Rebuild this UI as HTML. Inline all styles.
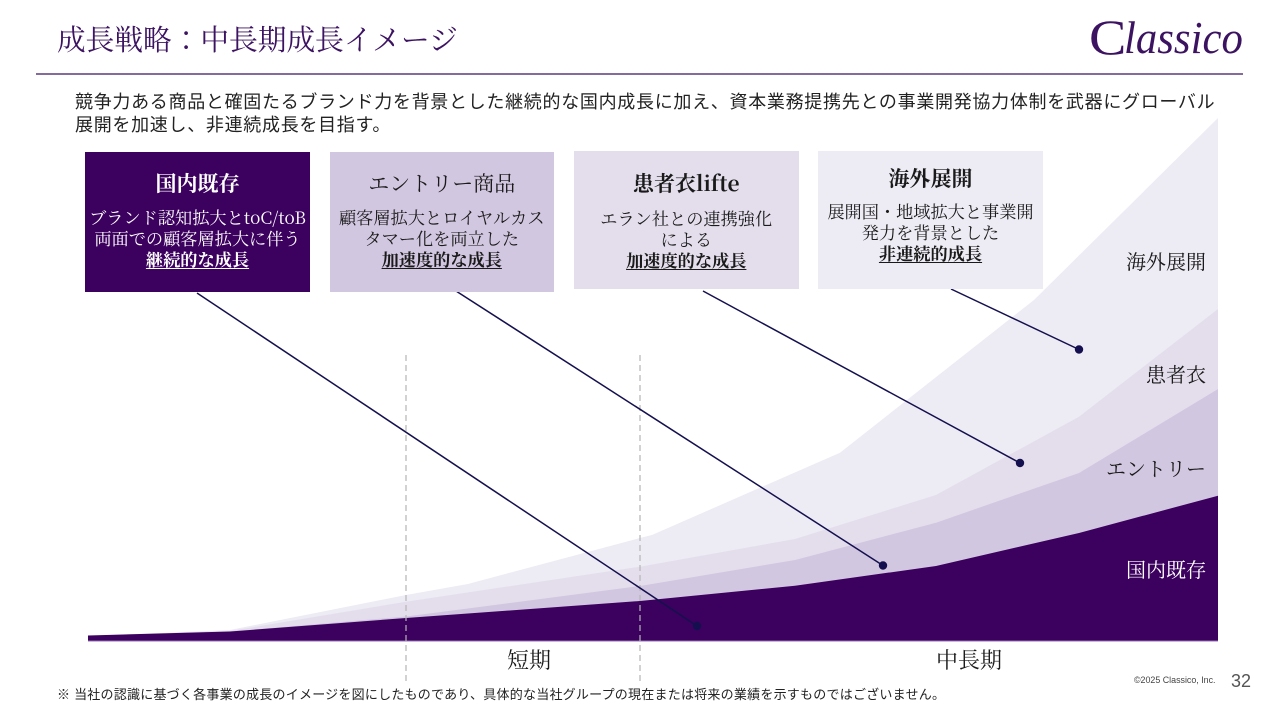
<!DOCTYPE html>
<html lang="ja"><head><meta charset="utf-8"><title>成長戦略</title>
<style>
html,body{margin:0;padding:0;background:#fff}
#p{position:relative;width:1280px;height:720px;overflow:hidden;background:#fff;font-family:"Liberation Serif","Noto Serif CJK JP",serif;color:#1a1a1a}
.a{position:absolute;white-space:nowrap}
.box{position:absolute;text-align:center;box-sizing:border-box;font-family:"Noto Serif CJK JP","Liberation Serif",serif}
.l{position:absolute;left:0;right:0;text-align:center;white-space:nowrap;font-size:17.2px;line-height:21px}
.h{position:absolute;left:0;right:0;text-align:center;white-space:nowrap;font-size:21px;line-height:30px}
b{font-weight:700}
u{font-weight:700;text-underline-offset:2px}
.s{font-family:"Liberation Sans","Noto Sans CJK JP",sans-serif}
svg{position:absolute;left:0;top:0}
</style></head><body><div id="p">
<svg width="1280" height="720" viewBox="0 0 1280 720">
<polygon fill="#edebf3" points="88,636 230,630 406,595 468,584 640,538 652,535 840,452.7 1034,300 1218,118 1218,641 88,641"/>
<polygon fill="#e4deec" points="88,636 230,631 406,601.7 640,566.7 795,539 936,495 1079,416.7 1218,309 1218,641 88,641"/>
<polygon fill="#d2c7e0" points="88,636 230,631.5 406,616.5 640,586 795,560 936,522.7 1079,473 1218,389 1218,641 88,641"/>
<polygon fill="#3c005f" points="88,635.5 230,631.5 406,618 640,601 795,585.7 936,566 1079,533 1218,495.7 1218,641 88,641"/>
<line x1="88" y1="641" x2="1218" y2="641" stroke="#9470b0" stroke-width="1"/>
<line x1="406" y1="355" x2="406" y2="682" stroke="#b5b5b5" stroke-width="1.2" stroke-dasharray="6 4"/>
<line x1="640" y1="355" x2="640" y2="682" stroke="#b5b5b5" stroke-width="1.2" stroke-dasharray="6 4"/>
<g stroke="#14104f" stroke-width="1.5" fill="#14104f">
<line x1="197" y1="293" x2="697" y2="626"/><circle cx="697" cy="626" r="4.2" stroke="none"/>
<line x1="456" y1="291" x2="883" y2="565.5"/><circle cx="883" cy="565.5" r="4.2" stroke="none"/>
<line x1="703" y1="291" x2="1020" y2="463"/><circle cx="1020" cy="463" r="4.2" stroke="none"/>
<line x1="951" y1="289" x2="1079" y2="349.5"/><circle cx="1079" cy="349.5" r="4.2" stroke="none"/>
</g>
<line x1="36" y1="74" x2="1243" y2="74" stroke="#3c1361" stroke-width="1.3"/>
</svg>

<div class="a" style="left:57px;top:21.5px;font-size:28.7px;line-height:38px;color:#3c1361">成長戦略：中長期成長イメージ</div>
<div class="a" style="left:1089px;top:9px;font-size:50px;line-height:56px;color:#3c1361;transform-origin:0 0;transform:scaleX(1.12)">C</div>
<div class="a" style="left:1124px;top:10px;font-size:46px;line-height:56px;color:#3c1361;transform-origin:0 0;transform:scaleX(.93)"><i>lassico</i></div>

<div class="a s" style="left:75px;top:91px;font-size:18px;line-height:23px;letter-spacing:.7px;color:#222">競争力ある商品と確固たるブランド力を背景とした継続的な国内成長に加え、資本業務提携先との事業開発協力体制を武器にグローバル<br>展開を加速し、非連続成長を目指す。</div>

<div class="box" style="left:85px;top:152px;width:225px;height:140px;background:#3c005f;color:#fff">
<div class="h" style="top:16px"><b>国内既存</b></div>
<div class="l" style="top:54px">ブランド認知拡大とtoC/toB</div>
<div class="l" style="top:75px">両面での顧客層拡大に伴う</div>
<div class="l" style="top:96px"><u>継続的な成長</u></div>
</div>
<div class="box" style="left:329.5px;top:151.5px;width:224.5px;height:140px;background:#d2c7e0">
<div class="h" style="top:16px">エントリー商品</div>
<div class="l" style="top:54px">顧客層拡大とロイヤルカス</div>
<div class="l" style="top:75px">タマー化を両立した</div>
<div class="l" style="top:96px"><u>加速度的な成長</u></div>
</div>
<div class="box" style="left:574px;top:151px;width:224.5px;height:138px;background:#e4deec">
<div class="h" style="top:17px"><b>患者衣lifte</b></div>
<div class="l" style="top:56px">エラン社との連携強化</div>
<div class="l" style="top:77px">による</div>
<div class="l" style="top:98px"><u>加速度的な成長</u></div>
</div>
<div class="box" style="left:818px;top:151px;width:225px;height:138px;background:#edebf3">
<div class="h" style="top:12px"><b>海外展開</b></div>
<div class="l" style="top:49px">展開国・地域拡大と事業開</div>
<div class="l" style="top:69.5px">発力を背景とした</div>
<div class="l" style="top:91px"><u>非連続的成長</u></div>
</div>

<div class="a" style="right:74px;top:248px;font-size:20px;line-height:30px">海外展開</div>
<div class="a" style="right:74px;top:361px;font-size:20px;line-height:30px">患者衣</div>
<div class="a" style="right:74px;top:455px;font-size:20px;line-height:30px">エントリー</div>
<div class="a" style="right:74px;top:556px;font-size:20px;line-height:30px;color:#fff">国内既存</div>

<div class="a" style="left:507px;top:645px;font-size:22px;line-height:32px">短期</div>
<div class="a" style="left:936px;top:645px;font-size:22px;line-height:32px">中長期</div>

<div class="a s" style="left:57px;top:686px;font-size:13px;line-height:18px;letter-spacing:.23px;color:#222">※ 当社の認識に基づく各事業の成長のイメージを図にしたものであり、具体的な当社グループの現在または将来の業績を示すものではございません。</div>
<div class="a s" style="left:1134px;top:674px;font-size:8.9px;line-height:12px;color:#444">©2025 Classico, Inc.</div>
<div class="a s" style="left:1231px;top:671px;font-size:18px;line-height:20px;color:#555">32</div>
</div></body></html>
